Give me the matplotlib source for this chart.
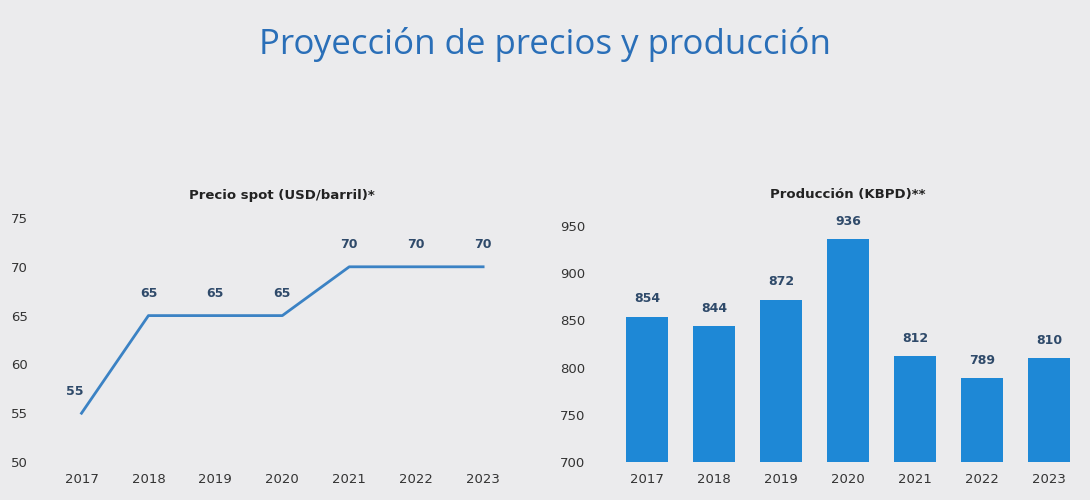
import matplotlib
matplotlib.use("Agg")
import matplotlib.pyplot as plt

years = ["2017", "2018", "2019", "2020", "2021", "2022", "2023"]
precio = [55, 65, 65, 65, 70, 70, 70]
produccion = [854, 844, 872, 936, 812, 789, 810]

bg = "#ebebed"
blue_line = "#3b82c4"
blue_bar = "#1e88d6"
lab = "#2f4a6a"

fig = plt.figure(figsize=(10.9, 5.0), dpi=100, facecolor=bg)
fig.text(0.5, 0.91, "Proyección de precios y producción", ha="center", va="center",
         fontsize=25, color="#2a6fb8", family="Open Sans")

ax1 = fig.add_axes([0.041, 0.076, 0.436, 0.488], facecolor=bg)
x = list(range(len(years)))
ax1.plot(x, precio, color=blue_line, lw=2)
for xi, v in zip(x, precio):
    ax1.text(xi - 0.1 if xi == 0 else xi, v + 1.6, str(v), ha="center", va="bottom",
             fontsize=9, fontweight="bold", color=lab)
ax1.set_xlim(-0.55, 6.55)
ax1.set_ylim(50, 75)
ax1.set_yticks([50, 55, 60, 65, 70, 75])
ax1.set_xticks(x)
ax1.set_xticklabels(years)
ax1.set_title("Precio spot (USD/barril)*", fontsize=9.5, fontweight="bold", color="#222", pad=14)

ax2 = fig.add_axes([0.56, 0.076, 0.436, 0.472], facecolor=bg)
ax2.bar(x, produccion, width=0.63, color=blue_bar)
for xi, v in zip(x, produccion):
    ax2.text(xi, v + 12, str(v), ha="center", va="bottom", fontsize=9,
             fontweight="bold", color=lab)
ax2.set_xlim(-0.55, 6.55)
ax2.set_ylim(700, 950)
ax2.set_yticks([700, 750, 800, 850, 900, 950])
ax2.set_xticks(x)
ax2.set_xticklabels(years)
ax2.set_title("Producción (KBPD)**", fontsize=9.5, fontweight="bold", color="#222", pad=20)

for ax in (ax1, ax2):
    for s in ax.spines.values():
        s.set_visible(False)
    ax.tick_params(length=0, labelsize=9.5, colors="#333", pad=8)
ax1.tick_params(axis="y", pad=12)
ax2.tick_params(axis="y", pad=18)

fig.savefig("out.png", dpi=100, facecolor=bg)
